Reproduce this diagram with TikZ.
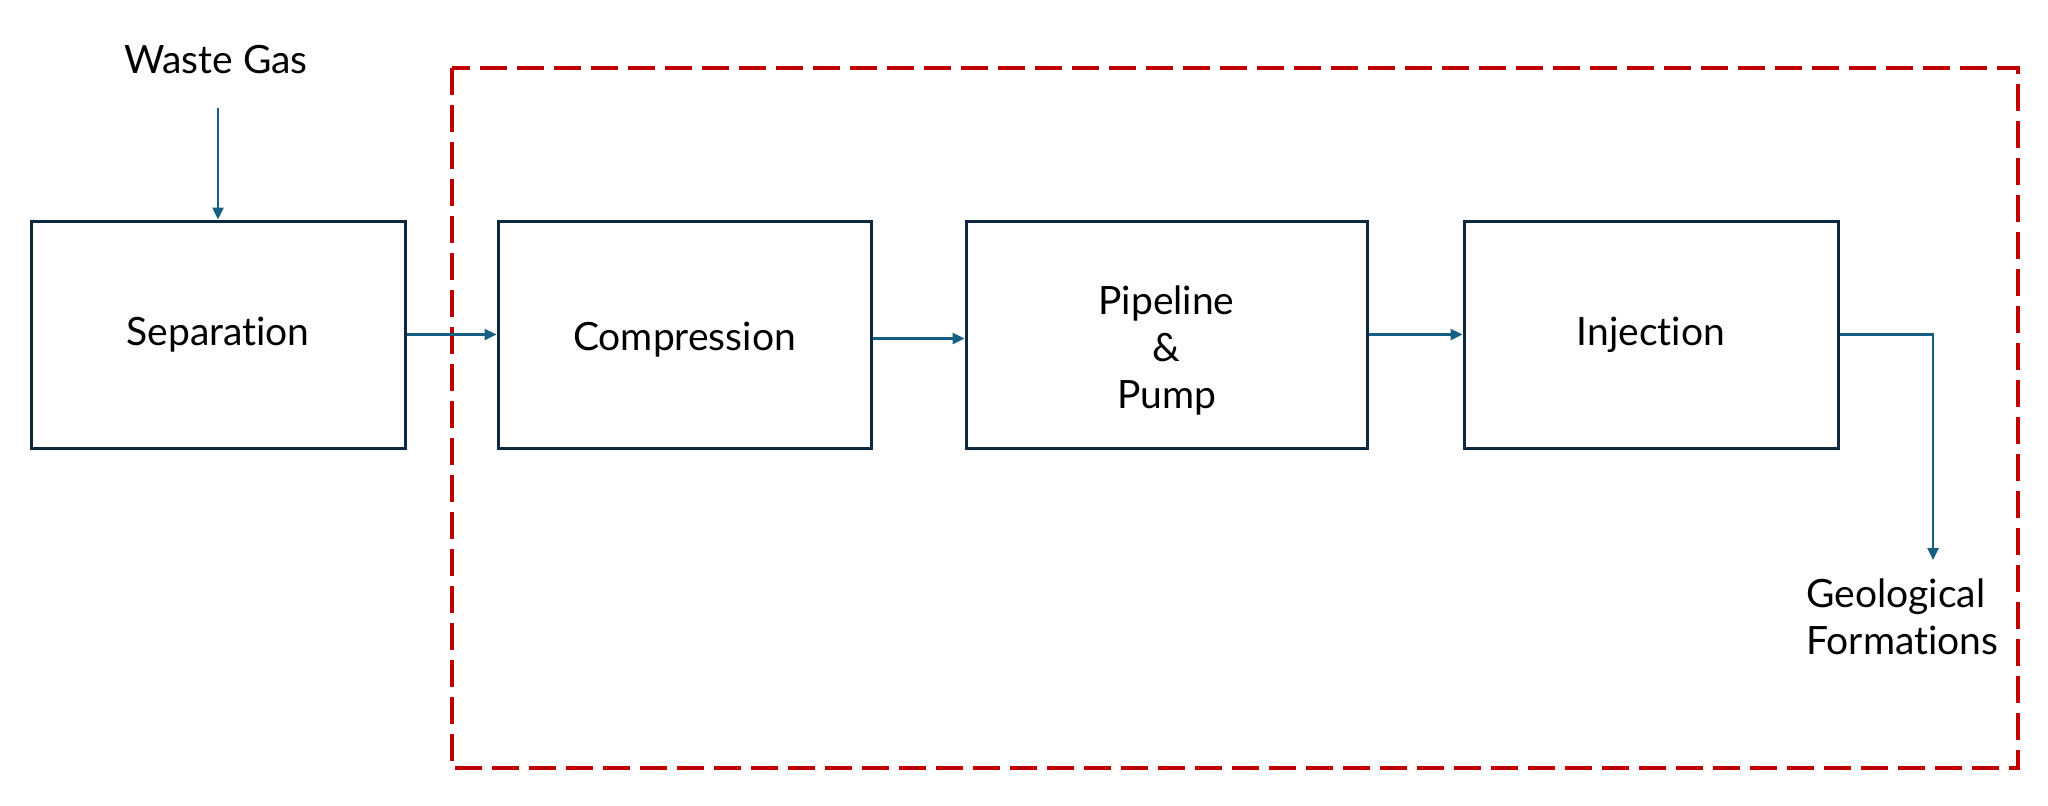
\documentclass[tikz,border=0pt]{standalone}
\usepackage{fontspec}
\setmainfont{Lato}[Ligatures={NoCommon}]
\usetikzlibrary{arrows.meta}
\definecolor{boxline}{HTML}{0E2841}
\definecolor{flow}{HTML}{156082}
\definecolor{zone}{HTML}{C00000}
\tikzset{
  stagebox/.style={draw=boxline, line width=1.5pt, rectangle, minimum height=113.5pt, font=\fontsize{19.5}{23.5}\selectfont, align=center, inner sep=0pt},
  flowarrow/.style={draw=flow, line width=1.2pt, -{Triangle[length=6pt,width=5.5pt]}},
  label/.style={font=\fontsize{19.5}{23.5}\selectfont, inner sep=0pt},
  zonebox/.style={draw=zone, line width=2pt, dash pattern=on 13.5pt off 5pt}
}
\begin{document}
\begin{tikzpicture}[x=0.5pt,y=-0.5pt]
\useasboundingbox[fill=white] (0,0) rectangle (2048,805);
\draw[zonebox] (452,68) rectangle (2018,768);
\node[stagebox, minimum width=187pt] (sep) at (218,334.5) {Separation};
\node[stagebox, minimum width=186.5pt] (comp) at (684.5,334.5) {};
\node[label] (comptext) at (684.5,340) {Compression};
\node[stagebox, minimum width=200.5pt] (pipe) at (1166.5,334.5) {};
\node[label, align=center] (pipetext) at (1166.5,350) {Pipeline\\\&\\Pump};
\node[stagebox, minimum width=187pt] (inj) at (1651,334.5) {Injection};
\node[label] (waste) at (216,60) {Waste Gas};
\node[label, align=left, anchor=north west] (geo) at (1806,578) {Geological\\Formations};
\coordinate (wasteStart) at (218,108);
\coordinate (geoEnd) at (1933,560);
\coordinate (compOut) at ([yshift=-2pt]comp.east);
\draw[flowarrow] (wasteStart) -- (sep.north);
\draw[flowarrow] (sep.east) -- (comp.west);
\draw[flowarrow] (compOut) -- (compOut -| pipe.west);
\draw[flowarrow] (pipe.east) -- (inj.west);
\draw[flowarrow] (inj.east) -| (geoEnd);
\end{tikzpicture}
\end{document}
